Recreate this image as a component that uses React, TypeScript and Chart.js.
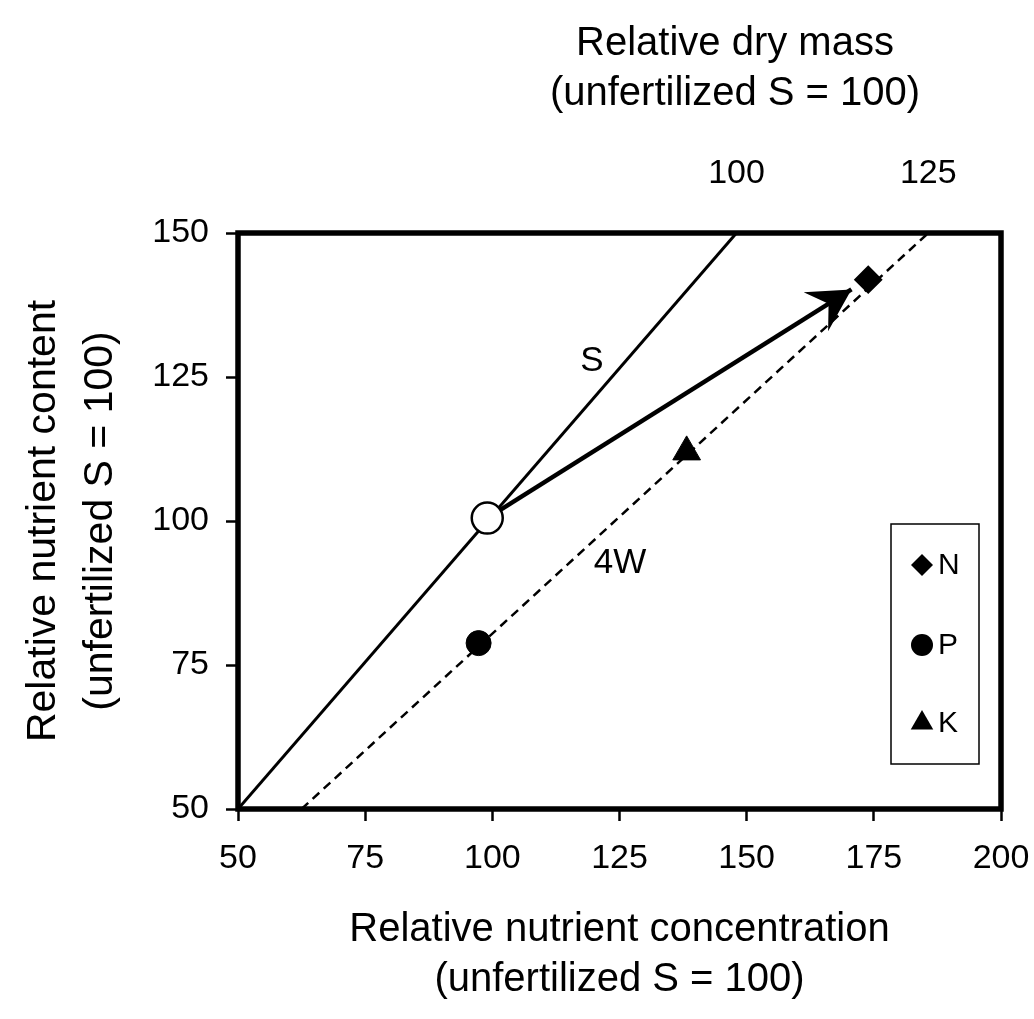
import React, { useEffect, useRef } from 'react';
import { Chart, registerables } from 'chart.js';

Chart.register(...registerables);

// ---- data ----
const xTicks = [50, 75, 100, 125, 150, 175, 200];
const yTicks = [50, 75, 100, 125, 150];
const topTickValues = [148, 185.7];
const topTickLabels = ['100', '125'];

const sLineX = [50, 148];
const sLineY = [50, 150];
const wLineX = [62.5, 185.7];
const wLineY = [50, 150];

const arrowX = [99, 170.6];
const arrowY = [100.5, 140.2];

const unfertX = [99];
const unfertY = [100.5];

const seriesNames = ['N', 'P', 'K'];
const seriesX = [173.9, 97.3, 138.2];
const seriesY = [141.9, 78.8, 112.0];

const lineLabels = ['S', '4W'];
const lineLabelX = [119.6, 125.1];
const lineLabelY = [127.7, 92.7];

const xTitle = ['Relative nutrient concentration', '(unfertilized S = 100)'];
const yTitle = ['Relative nutrient content', '(unfertilized S = 100)'];
const topTitle = ['Relative dry mass', '(unfertilized S = 100)'];

// ---- styling ----
const FONT = '"Liberation Sans", Arial, Helvetica, sans-serif';
const pts = (xs: number[], ys: number[]) => xs.map((x, i) => ({ x, y: ys[i] }));

const framePlugin = {
  id: 'frame',
  afterDatasetsDraw(chart: any) {
    const { ctx, chartArea: a } = chart;
    ctx.save();
    ctx.strokeStyle = '#000';
    ctx.lineWidth = 5.5;
    ctx.strokeRect(a.left, a.top, a.right - a.left, a.bottom - a.top);
    ctx.restore();
  },
};

const arrowPlugin = {
  id: 'arrowHead',
  afterDatasetsDraw(chart: any) {
    const { ctx } = chart;
    const xs = chart.scales.x;
    const ys = chart.scales.y;
    const x0 = xs.getPixelForValue(arrowX[0]);
    const y0 = ys.getPixelForValue(arrowY[0]);
    const x1 = xs.getPixelForValue(arrowX[1]);
    const y1 = ys.getPixelForValue(arrowY[1]);
    const ang = Math.atan2(y1 - y0, x1 - x0);
    const c = Math.cos(ang);
    const s = Math.sin(ang);
    const P = (b: number, w: number) => [x1 - b * c - w * s, y1 - b * s + w * c];
    ctx.save();
    ctx.fillStyle = '#000';
    ctx.beginPath();
    ctx.moveTo(x1, y1);
    let p = P(42, 23);
    ctx.lineTo(p[0], p[1]);
    p = P(27, 0);
    ctx.lineTo(p[0], p[1]);
    p = P(42, -23);
    ctx.lineTo(p[0], p[1]);
    ctx.closePath();
    ctx.fill();
    ctx.restore();
  },
};

const drawMarker = (ctx: any, style: string, x: number, y: number, r: number) => {
  ctx.beginPath();
  if (style === 'rectRot') {
    ctx.moveTo(x - r, y);
    ctx.lineTo(x, y - r);
    ctx.lineTo(x + r, y);
    ctx.lineTo(x, y + r);
    ctx.closePath();
  } else if (style === 'circle') {
    ctx.arc(x, y, r, 0, Math.PI * 2);
  } else {
    const h = r * 1.5;
    const w = r * Math.sqrt(3);
    ctx.moveTo(x, y - r);
    ctx.lineTo(x + w / 2, y - r + h);
    ctx.lineTo(x - w / 2, y - r + h);
    ctx.closePath();
  }
  ctx.fill();
};

const legendStyles = ['rectRot', 'circle', 'triangle'];

const annotPlugin = {
  id: 'annot',
  afterDraw(chart: any) {
    const { ctx } = chart;
    const xs = chart.scales.x;
    const ys = chart.scales.y;
    ctx.save();
    ctx.fillStyle = '#000';
    ctx.textAlign = 'center';
    ctx.textBaseline = 'middle';
    ctx.font = `35px ${FONT}`;
    lineLabels.forEach((t, i) => {
      ctx.fillText(t, xs.getPixelForValue(lineLabelX[i]), ys.getPixelForValue(lineLabelY[i]));
    });
    // top title
    ctx.font = `40px ${FONT}`;
    ctx.fillText(topTitle[0], 735, 44);
    ctx.fillText(topTitle[1], 735, 94);
    // legend box
    ctx.strokeStyle = '#000';
    ctx.lineWidth = 1.5;
    ctx.strokeRect(891, 524, 88, 240);
    const rowY = [565, 645, 723];
    ctx.font = `30px ${FONT}`;
    ctx.textAlign = 'left';
    seriesNames.forEach((n, i) => {
      drawMarker(ctx, legendStyles[i], 922, rowY[i], legendStyles[i] === 'triangle' ? 13 : 11);
      ctx.fillText(n, 938, rowY[i] + 1);
    });
    ctx.restore();
  },
};

export default function App() {
  const ref = useRef<HTMLCanvasElement | null>(null);

  useEffect(() => {
    if (!ref.current) return;
    const tickFont = { family: FONT, size: 34 };
    const titleFont = { family: FONT, size: 40, lineHeight: 1.25 };
    const chart = new Chart(ref.current, {
      type: 'scatter',
      data: {
        datasets: [
          {
            label: 'unfertilized S',
            data: pts(unfertX, unfertY),
            pointRadius: 15.5,
            pointBackgroundColor: '#fff',
            pointBorderColor: '#000',
            pointBorderWidth: 2.5,
            order: 0,
          },
          {
            label: seriesNames[0],
            data: [{ x: seriesX[0], y: seriesY[0] }],
            pointStyle: 'rectRot',
            pointRadius: 13,
            pointBackgroundColor: '#000',
            pointBorderColor: '#000',
            pointBorderWidth: 2,
            order: 1,
          },
          {
            label: seriesNames[1],
            data: [{ x: seriesX[1], y: seriesY[1] }],
            pointStyle: 'circle',
            pointRadius: 12.5,
            pointBackgroundColor: '#000',
            pointBorderColor: '#000',
            pointBorderWidth: 1,
            order: 1,
          },
          {
            label: seriesNames[2],
            data: [{ x: seriesX[2], y: seriesY[2] }],
            pointStyle: 'triangle',
            pointRadius: 16,
            pointBackgroundColor: '#000',
            pointBorderColor: '#000',
            pointBorderWidth: 1,
            order: 1,
          },
          {
            label: 'arrow',
            data: pts(arrowX, arrowY),
            showLine: true,
            borderColor: '#000',
            borderWidth: 4.5,
            pointRadius: 0,
            order: 2,
          },
          {
            label: 'S',
            data: pts(sLineX, sLineY),
            showLine: true,
            borderColor: '#000',
            borderWidth: 3,
            pointRadius: 0,
            order: 3,
          },
          {
            label: '4W',
            data: pts(wLineX, wLineY),
            showLine: true,
            borderColor: '#000',
            borderWidth: 2.5,
            borderDash: [9, 6],
            pointRadius: 0,
            order: 3,
          },
        ],
      },
      options: {
        animation: false,
        responsive: true,
        maintainAspectRatio: false,
        layout: { padding: { left: 0, right: 33, top: 0, bottom: 0 } },
        plugins: { legend: { display: false }, tooltip: { enabled: false } },
        scales: {
          x: {
            type: 'linear',
            position: 'bottom',
            min: 50,
            max: 200,
            afterBuildTicks: (ax: any) => {
              ax.ticks = xTicks.map((v) => ({ value: v }));
            },
            afterFit: (s: any) => {
              s.height = 210;
              s.paddingLeft = 0;
              s.paddingRight = 0;
            },
            grid: {
              display: true,
              drawOnChartArea: false,
              drawTicks: true,
              tickLength: 12,
              tickWidth: 2.5,
              color: '#000',
            },
            border: { display: false },
            ticks: { font: tickFont, color: '#000', padding: 17, maxRotation: 0, autoSkip: false },
            title: {
              display: true,
              text: xTitle,
              font: titleFont,
              color: '#000',
              padding: { top: 0, bottom: 14 },
            },
          },
          x2: {
            type: 'linear',
            position: 'top',
            min: 50,
            max: 200,
            afterBuildTicks: (ax: any) => {
              ax.ticks = topTickValues.map((v) => ({ value: v }));
            },
            afterFit: (s: any) => {
              s.height = 233;
              s.paddingLeft = 0;
              s.paddingRight = 0;
            },
            grid: { display: false, drawTicks: false },
            border: { display: false },
            ticks: {
              font: tickFont,
              color: '#000',
              padding: 39,
              maxRotation: 0,
              autoSkip: false,
              callback: (_v: any, i: number) => topTickLabels[i] ?? '',
            },
          },
          y: {
            type: 'linear',
            position: 'left',
            min: 50,
            max: 150,
            afterBuildTicks: (ax: any) => {
              ax.ticks = yTicks.map((v) => ({ value: v }));
            },
            afterFit: (s: any) => {
              s.width = 238;
            },
            grid: {
              display: true,
              drawOnChartArea: false,
              drawTicks: true,
              tickLength: 12,
              tickWidth: 2.5,
              color: '#000',
            },
            border: { display: false },
            ticks: { font: tickFont, color: '#000', padding: 17 },
            title: {
              display: true,
              text: yTitle,
              font: { family: FONT, size: 41, lineHeight: 1.4 },
              color: '#000',
              padding: { top: 15, bottom: 0 },
            },
          },
        },
      },
      plugins: [framePlugin, arrowPlugin, annotPlugin],
    } as any);
    return () => chart.destroy();
  }, []);

  return (
    <div style={{ position: 'absolute', left: 0, top: 0, width: 1034, height: 1019 }}>
      <canvas ref={ref} />
    </div>
  );
}
